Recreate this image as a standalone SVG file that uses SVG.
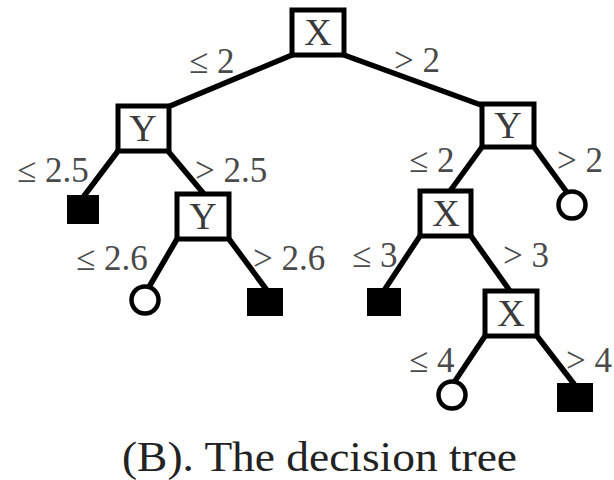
<svg xmlns="http://www.w3.org/2000/svg" width="614" height="480" viewBox="0 0 614 480">
  <style>
    .box { fill: #fff; stroke: #000; stroke-width: 5; }
    .leafA { fill: #000; stroke: none; }
    .leafB { fill: #fff; stroke: #000; stroke-width: 4.5; }
    .edge { stroke: #000; stroke-width: 5.5; stroke-linecap: round; fill: none; }
    .var { font-family: "Liberation Serif", "Times New Roman", serif; font-size: 38px; fill: #3a3a3a; text-anchor: middle; }
    .lbl { font-family: "Liberation Serif", "Times New Roman", serif; font-size: 35px; fill: #4a4a4a; }
    .cap { font-family: "Liberation Serif", "Times New Roman", serif; font-size: 42px; fill: #222; }
  </style>
  <rect width="614" height="480" fill="#fff"/>

  <!-- branches -->
  <g id="edges">
    <line class="edge" x1="292" y1="55" x2="170" y2="106"/>
    <line class="edge" x1="344" y1="55" x2="481" y2="105"/>
    <line class="edge" x1="118" y1="151" x2="84" y2="196"/>
    <line class="edge" x1="168" y1="151" x2="204" y2="194"/>
    <line class="edge" x1="177" y1="239" x2="149" y2="287"/>
    <line class="edge" x1="229" y1="239" x2="266" y2="289"/>
    <line class="edge" x1="482" y1="147" x2="450" y2="191"/>
    <line class="edge" x1="534" y1="147" x2="566" y2="191"/>
    <line class="edge" x1="420" y1="236" x2="385" y2="289"/>
    <line class="edge" x1="471" y1="236" x2="510" y2="291"/>
    <line class="edge" x1="485" y1="336" x2="455" y2="381"/>
    <line class="edge" x1="537" y1="336" x2="574" y2="384"/>

    <text class="lbl" x="189" y="73">≤ 2</text>
    <text class="lbl" x="394" y="72">&gt; 2</text>
    <text class="lbl" x="17" y="182">≤ 2.5</text>
    <text class="lbl" x="195" y="182">&gt; 2.5</text>
    <text class="lbl" x="409" y="172">≤ 2</text>
    <text class="lbl" x="557" y="172">&gt; 2</text>
    <text class="lbl" x="76" y="270">≤ 2.6</text>
    <text class="lbl" x="253" y="270">&gt; 2.6</text>
    <text class="lbl" x="352" y="267">≤ 3</text>
    <text class="lbl" x="503" y="267">&gt; 3</text>
    <text class="lbl" x="409" y="372">≤ 4</text>
    <text class="lbl" x="566" y="372">&gt; 4</text>
  </g>

  <!-- split nodes -->
  <g id="n-root">
    <rect class="box" x="292" y="10" width="52" height="45"/>
    <text class="var" x="318" y="45">X</text>
  </g>
  <g id="n-y-left">
    <rect class="box" x="118" y="106" width="51" height="45"/>
    <text class="var" x="143" y="141">Y</text>
  </g>
  <g id="n-y-right">
    <rect class="box" x="482" y="104" width="52" height="43"/>
    <text class="var" x="508" y="138">Y</text>
  </g>
  <g id="n-y-lower">
    <rect class="box" x="177" y="194" width="52" height="45"/>
    <text class="var" x="203" y="229">Y</text>
  </g>
  <g id="n-x-mid">
    <rect class="box" x="420" y="191" width="51" height="45"/>
    <text class="var" x="446" y="226">X</text>
  </g>
  <g id="n-x-low">
    <rect class="box" x="485" y="291" width="52" height="45"/>
    <text class="var" x="511" y="326">X</text>
  </g>

  <!-- leaves -->
  <g id="leaf-1"><rect class="leafA" x="67" y="195" width="32" height="29"/></g>
  <g id="leaf-2"><circle class="leafB" cx="145" cy="300" r="13.5"/></g>
  <g id="leaf-3"><rect class="leafA" x="247" y="288" width="36" height="28"/></g>
  <g id="leaf-4"><circle class="leafB" cx="572" cy="205" r="13.5"/></g>
  <g id="leaf-5"><rect class="leafA" x="367" y="288" width="34" height="28"/></g>
  <g id="leaf-6"><circle class="leafB" cx="452" cy="395" r="13.5"/></g>
  <g id="leaf-7"><rect class="leafA" x="557" y="383" width="36" height="29"/></g>

  <text class="cap" x="122" y="471" textLength="395" lengthAdjust="spacingAndGlyphs">(B). The decision tree</text>
</svg>
